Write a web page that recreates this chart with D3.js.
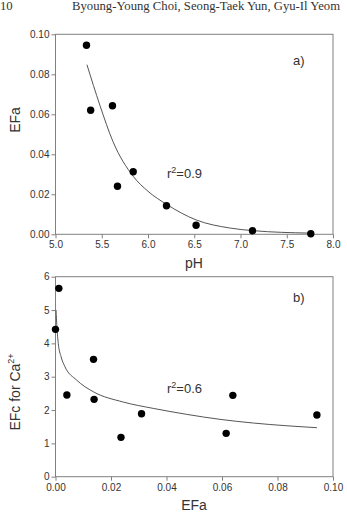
<!DOCTYPE html>
<html><head><meta charset="utf-8">
<script src="https://cdn.jsdelivr.net/npm/d3@7"></script>
<style>body{margin:0;background:#fff}svg{display:block}</style>
</head><body>
<svg id="c" width="347" height="512"></svg>
<script>
// Panel a: pH vs EFa
const phValues  = [5.335, 5.38, 5.616, 5.67, 5.84, 6.20, 6.52, 7.13, 7.76];
const efaValues = [0.0945, 0.062, 0.0643, 0.024, 0.0313, 0.0143, 0.0045, 0.0018, 0.0003];
const fitA_ph  = [5.34, 5.48, 5.62, 5.84, 6.0, 6.2, 6.52, 6.89, 7.14, 7.75];
const fitA_efa = [0.0848, 0.0645, 0.0465, 0.0290, 0.0215, 0.0150, 0.0072, 0.0031, 0.0018, 0.0006];
const xTicksA = [5.0, 5.5, 6.0, 6.5, 7.0, 7.5, 8.0];
const yTicksA = [0.00, 0.02, 0.04, 0.06, 0.08, 0.10];

// Panel b: EFa vs EFc for Ca2+
const efaB = [0.0012, 0.0, 0.0137, 0.0041, 0.0139, 0.0236, 0.031, 0.0615, 0.0639, 0.0942];
const efcB = [5.65, 4.42, 3.52, 2.45, 2.32, 1.18, 1.89, 1.30, 2.44, 1.85];
const fitB_efa = [0.0002, 0.0005, 0.001, 0.002, 0.0034, 0.0076, 0.0136, 0.0244, 0.0352, 0.0473, 0.0593, 0.0713, 0.0942];
const fitB_efc = [5.0, 4.5, 4.0, 3.6, 3.3, 2.9, 2.55, 2.24, 2.05, 1.87, 1.72, 1.61, 1.47];
const xTicksB = [0.00, 0.02, 0.04, 0.06, 0.08, 0.10];
const yTicksB = [0, 1, 2, 3, 4, 5, 6];

const svg = d3.select("#c");
const SANS = "'Liberation Sans', Arial, sans-serif";
const SERIF = "'Liberation Serif', 'Times New Roman', serif";
const frameCol = "#808080";
const txtCol = "#333";

// header
svg.append("text").attr("x", 0).attr("y", 10).attr("font-family", SERIF)
  .attr("font-size", 12.7).attr("fill", txtCol).text("10");
svg.append("text").attr("x", 72).attr("y", 10).attr("font-family", SERIF)
  .attr("font-size", 12.7).attr("fill", txtCol).text("Byoung-Young Choi, Seong-Taek Yun, Gyu-Il Yeom");

function panel(opt) {
  const {L, R, T, B, xDom, yDom, xTicks, yTicks, xFmt, yFmt, xs, ys, fx, fy} = opt;
  const x = d3.scaleLinear().domain(xDom).range([L, R]);
  const y = d3.scaleLinear().domain(yDom).range([B, T]);
  const g = svg.append("g");
  const xAxis = g.append("g").attr("transform", `translate(0,${B})`)
    .call(d3.axisBottom(x).tickValues(xTicks).tickFormat(xFmt).tickSizeInner(4).tickSizeOuter(0).tickPadding(3));
  const yAxis = g.append("g").attr("transform", `translate(${L},0)`)
    .call(d3.axisLeft(y).tickValues(yTicks).tickFormat(yFmt).tickSizeInner(4).tickSizeOuter(0).tickPadding(2));
  [xAxis, yAxis].forEach(a => {
    a.select(".domain").remove();
    a.selectAll("line").attr("stroke", frameCol);
    a.selectAll("text").attr("font-family", SANS).attr("font-size", 10).attr("fill", txtCol);
  });
  g.append("rect").attr("x", L).attr("y", T).attr("width", R - L).attr("height", B - T)
    .attr("fill", "none").attr("stroke", frameCol).attr("stroke-width", 1);
  const line = d3.line().x(d => x(d[0])).y(d => y(d[1])).curve(d3.curveMonotoneX);
  g.append("path").datum(fx.map((v, i) => [v, fy[i]])).attr("d", line)
    .attr("fill", "none").attr("stroke", "#555").attr("stroke-width", 1);
  g.selectAll("circle.pt").data(xs.map((v, i) => [v, ys[i]])).enter().append("circle")
    .attr("class", "pt").attr("cx", d => x(d[0])).attr("cy", d => y(d[1])).attr("r", 3.7).attr("fill", "#000");
  return {g, x, y};
}

panel({L: 55.5, R: 333, T: 34.3, B: 234.3, xDom: [5, 8], yDom: [0, 0.1],
  xTicks: xTicksA, yTicks: yTicksA, xFmt: d3.format(".1f"), yFmt: d3.format(".2f"),
  xs: phValues, ys: efaValues, fx: fitA_ph, fy: fitA_efa});
panel({L: 55.5, R: 333, T: 276.7, B: 476.7, xDom: [0, 0.1], yDom: [0, 6],
  xTicks: xTicksB, yTicks: yTicksB, xFmt: d3.format(".2f"), yFmt: d3.format("d"),
  xs: efaB, ys: efcB, fx: fitB_efa, fy: fitB_efc});

function label(x, y, s, size, anchor, rot) {
  const t = svg.append("text").attr("font-family", SANS).attr("font-size", size).attr("fill", txtCol)
    .attr("text-anchor", anchor || "start");
  if (rot) t.attr("transform", `translate(${x},${y}) rotate(-90)`); else t.attr("x", x).attr("y", y);
  return t.text(s);
}
// axis titles
label(194, 268, "pH", 14, "middle");
label(20, 120, "EFa", 14, "middle", true);
label(194, 510, "EFa", 14, "middle");
const yl = svg.append("text").attr("font-family", SANS).attr("font-size", 14).attr("fill", txtCol)
  .attr("text-anchor", "middle").attr("transform", "translate(20,392) rotate(-90)");
yl.append("tspan").text("EFc for Ca");
yl.append("tspan").attr("font-size", 9).attr("dy", -6).text("2+");

// panel tags
label(293, 65, "a)", 13);
label(293, 302, "b)", 13);

// r² labels
function r2(x, y, v) {
  const t = svg.append("text").attr("x", x).attr("y", y).attr("font-family", SANS).attr("font-size", 13).attr("fill", txtCol);
  t.append("tspan").text("r");
  t.append("tspan").attr("font-size", 9).attr("dy", -5).text("2");
  t.append("tspan").attr("dy", 5).text("=" + v);
}
r2(167, 178, "0.9");
r2(167, 393, "0.6");
</script>
</body></html>
